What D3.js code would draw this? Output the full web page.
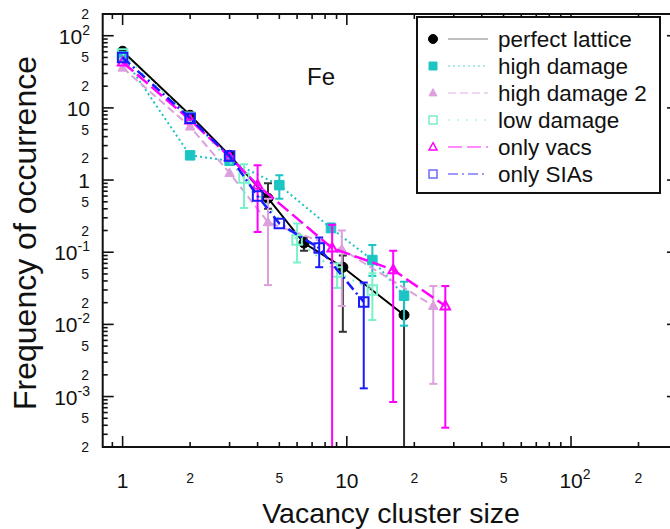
<!DOCTYPE html>
<html><head><meta charset="utf-8">
<script src="https://cdn.jsdelivr.net/npm/d3@7"></script>
<style>body{margin:0;background:#fff}svg{display:block;font-family:"Liberation Sans",Arial,sans-serif}</style>
</head><body><svg id="c" width="670" height="529"></svg>
<script>
// ---- data ----
const seriesNames = ["perfect lattice","high damage","high damage 2","low damage","only vacs","only SIAs"];
const plX = [1, 2, 3, 4.45, 6.44, 9.6, 18];
const plY = [61, 7.9, 2.2, 0.56, 0.134, 0.062, 0.0135];
const plLo = [null, null, null, 0.4, 0.105, 0.0079, 0];
const plHi = [null, null, null, 0.9, 0.16, 0.09, 0.023];

const hdX = [1, 2, 3, 5, 8.5, 13, 18];
const hdY = [52, 2.2, 1.85, 0.85, 0.216, 0.078, 0.025];
const hdLo = [null, null, null, 0.55, 0.19, 0.047, 0.0096];
const hdHi = [null, null, null, 1.17, 0.25, 0.126, 0.039];

const hd2X = [1, 2, 3, 4.45, 9.5, 24.3];
const hd2Y = [36, 5.5, 1.25, 0.26, 0.11, 0.018];
const hd2Lo = [null, null, null, 0.035, 0.018, 0.0015];
const hd2Hi = [null, null, null, 0.55, 0.2, 0.034];

const ldX = [1, 2, 3.48, 6.0, 9.05, 13];
const ldY = [56, 7.4, 1.07, 0.148, 0.053, 0.03];
const ldLo = [null, null, 0.41, 0.072, 0.032, 0.0115];
const ldHi = [null, null, 1.65, 0.25, 0.07, 0.051];

const ovX = [1, 2, 3, 4.0, 8.6, 16.1, 27.5];
const ovY = [43, 6.8, 2.1, 0.85, 0.114, 0.057, 0.018];
const ovLo = [null, null, null, 0.19, 0, 0.00084, 0.00037];
const ovHi = [null, null, null, 1.6, 0.24, 0.105, 0.034];

const osX = [1, 2, 3, 4, 5, 7.53, 11.9];
const osY = [50, 7.2, 2.15, 0.6, 0.25, 0.114, 0.0204];
const osLo = [null, null, null, null, null, 0.062, 0.0013];
const osHi = [null, null, null, null, null, 0.16, 0.038];

const xMajorTicks = [1, 10, 100];
const xMajorLabels = ["1", "10", "10|2"];
const xMinorLabelTicks = [2, 5, 20, 50, 200];
const yMajorTicks = [1e-3, 1e-2, 1e-1, 1, 10, 100];
const yMajorLabels = ["10|-3", "10|-2", "10|-1", "1", "10", "10|2"];
const yMinorLabelTicks = [2e-4, 5e-4, 2e-3, 5e-3, 2e-2, 5e-2, 0.2, 0.5, 2, 5, 20, 50, 200];
const xTitle = "Vacancy cluster size";
const yTitle = "Frequency of occurrence";
const annot = "Fe";

// ---- styles ----
const styles = [
  {color:"#000000", lineColor:"#000", legLine:"#aaaaaa", dash:null, width:2, marker:"circle", fill:true, err:"#333"},
  {color:"#1cc4c4", lineColor:"#1cc4c4", legLine:"#8fe3e3", dash:"2,3", width:2, marker:"square", fill:true, err:"#1cc4c4"},
  {color:"#dca0dc", lineColor:"#dca0dc", legLine:"#eec8ee", dash:"8,4", width:2, marker:"triangle", fill:true, err:"#dca0dc"},
  {color:"#78f2c8", lineColor:"#78f2c8", legLine:"#b0f8e0", dash:"2,7", width:2, marker:"square", fill:false, err:"#78f2c8"},
  {color:"#ff00ff", lineColor:"#ff00ff", legLine:"#ff66ff", dash:"14,5", width:2.5, marker:"triangle", fill:false, err:"#ff00ff"},
  {color:"#1a1aff", lineColor:"#1a1aff", legLine:"#7a7aff", dash:"10,4,2,4", width:2.5, marker:"square", fill:false, err:"#1a1aff"}
];
const data = [
  [plX, plY, plLo, plHi],[hdX, hdY, hdLo, hdHi],[hd2X, hd2Y, hd2Lo, hd2Hi],
  [ldX, ldY, ldLo, ldHi],[ovX, ovY, ovLo, ovHi],[osX, osY, osLo, osHi]
].map(([xs, ys, lo, hi]) => xs.map((x,i)=>({x, y:ys[i], lo:lo[i], hi:hi[i]})));

const svg = d3.select("#c");
const L = 102.7, T = 14, B = 447;
const xMin = 0.815, xMax = 300, decade = 224.2;
const x = d3.scaleLog().domain([xMin, xMax]).range([L, L + decade*Math.log10(xMax/xMin)]);
const y = d3.scaleLog().domain([2e-4, 200]).range([B, T]);
const R = x(xMax);

svg.append("defs").append("clipPath").attr("id","clip")
  .append("rect").attr("x",L).attr("y",T).attr("width",R-L).attr("height",B-T);

const plot = svg.append("g").attr("clip-path","url(#clip)");

function markerPath(type, size){
  if(type==="circle") return d3.symbol().type(d3.symbolCircle).size(Math.PI*size*size/4)();
  if(type==="square") return `M${-size/2},${-size/2}h${size}v${size}h${-size}Z`;
  const h = size*0.9; return `M0,${-h*0.6}L${size/2},${h*0.4}L${-size/2},${h*0.4}Z`;
}

data.forEach((pts, si) => {
  const st = styles[si];
  const g = plot.append("g");
  pts.filter(p => p.hi != null).forEach(p => {
    const xp = x(p.x), y1 = y(p.hi), y0 = p.lo > 0 ? y(p.lo) : B + 5;
    g.append("line").attr("x1",xp).attr("x2",xp).attr("y1",y1).attr("y2",y0)
      .attr("stroke",st.err).attr("stroke-width",2);
    g.append("line").attr("x1",xp-4).attr("x2",xp+4).attr("y1",y1).attr("y2",y1)
      .attr("stroke",st.err).attr("stroke-width",2);
    if (p.lo > 0) g.append("line").attr("x1",xp-4).attr("x2",xp+4).attr("y1",y0).attr("y2",y0)
      .attr("stroke",st.err).attr("stroke-width",2);
  });
  g.append("path").datum(pts)
    .attr("d", d3.line().x(d=>x(d.x)).y(d=>y(d.y)))
    .attr("fill","none").attr("stroke",st.lineColor).attr("stroke-width",st.width)
    .attr("stroke-dasharray", st.dash);
  g.selectAll(".m").data(pts).enter().append("path")
    .attr("transform", d=>`translate(${x(d.x)},${y(d.y)})`)
    .attr("d", markerPath(st.marker, st.marker==="circle"?10:9.5))
    .attr("fill", st.fill ? st.color : "none")
    .attr("stroke", st.color).attr("stroke-width", st.fill?1:2);
});

// frame
const ax = svg.append("g").attr("stroke","#111").attr("stroke-width",2);
ax.append("rect").attr("x",L).attr("y",T).attr("width",R-L).attr("height",B-T).attr("fill","none");

function minorTicks(lo, hi){
  const out=[];
  for(let e=Math.floor(Math.log10(lo))-1;e<=Math.ceil(Math.log10(hi));e++)
    for(let m=1;m<=9;m++){const v=m*Math.pow(10,e); if(v>=lo*0.999&&v<=hi*1.001) out.push({v, major:m===1});}
  return out;
}
minorTicks(xMin, xMax).forEach(t => {
  const xp = x(t.v), len = t.major?11:5;
  ax.append("line").attr("x1",xp).attr("x2",xp).attr("y1",B).attr("y2",B-len).attr("stroke-width",1.6);
  ax.append("line").attr("x1",xp).attr("x2",xp).attr("y1",T).attr("y2",T+len).attr("stroke-width",1.6);
});
minorTicks(2e-4, 200).forEach(t => {
  const yp = y(t.v), len = t.major?11:5;
  ax.append("line").attr("x1",L).attr("x2",L+len).attr("y1",yp).attr("y2",yp).attr("stroke-width",1.6);
  ax.append("line").attr("x1",R).attr("x2",R-len).attr("y1",yp).attr("y2",yp).attr("stroke-width",1.6);
});

function powLabel(sel, lab, bigSize, smallSize){
  const parts = lab.split("|");
  sel.append("tspan").text(parts[0]).attr("font-size",bigSize);
  if(parts[1]) sel.append("tspan").text(parts[1]).attr("font-size",smallSize).attr("dy",-9);
}
xMajorTicks.forEach((v,i)=>{
  const t = svg.append("text").attr("x",x(v)).attr("y",488).attr("text-anchor","middle").attr("fill","#111");
  powLabel(t, xMajorLabels[i], 21, 14);
  if(xMajorLabels[i].includes("|")) t.attr("x", x(v)+4);
});
xMinorLabelTicks.forEach(v=>{
  svg.append("text").attr("x",x(v)).attr("y",483).attr("text-anchor","middle").attr("font-size",14)
    .attr("fill","#111").text(String(v).charAt(0));
});
yMajorTicks.forEach((v,i)=>{
  const t = svg.append("text").attr("x",90).attr("y",y(v)+8).attr("text-anchor","end").attr("fill","#111");
  powLabel(t, yMajorLabels[i], 21, 14);
});
yMinorLabelTicks.forEach(v=>{
  const s = v.toExponential(0).charAt(0);
  svg.append("text").attr("x",89).attr("y",y(v)+5).attr("text-anchor","end").attr("font-size",14)
    .attr("fill","#111").text(s);
});
// titles
svg.append("text").attr("x",391).attr("y",523).attr("text-anchor","middle").attr("font-size",28.5).attr("fill","#111").text(xTitle);
svg.append("text").attr("transform","translate(36,233) rotate(-90)").attr("text-anchor","middle").attr("font-size",32).attr("fill","#111").text(yTitle);
svg.append("text").attr("x",321).attr("y",85).attr("text-anchor","middle").attr("font-size",24).attr("fill","#111").text(annot);

// legend
const lg = svg.append("g");
lg.append("rect").attr("x",417).attr("y",17).attr("width",243).attr("height",176).attr("fill","#fff").attr("stroke","#111").attr("stroke-width",2);
seriesNames.forEach((name, i)=>{
  const st = styles[i], yc = 39 + i*27;
  lg.append("line").attr("x1",448).attr("x2",488).attr("y1",yc).attr("y2",yc)
    .attr("stroke",st.legLine).attr("stroke-width",1.5).attr("stroke-dasharray",st.dash);
  lg.append("path").attr("transform",`translate(433,${yc})`).attr("d",markerPath(st.marker, st.marker==="circle"?9:8))
    .attr("fill", st.fill?st.color:"none").attr("stroke", i===5?"#6a6aff":st.color).attr("stroke-width", st.fill?1:1.5);
  lg.append("text").attr("x",498).attr("y",yc+7.5).attr("font-size",22.5).attr("fill","#111").text(name);
});
</script></body></html>
